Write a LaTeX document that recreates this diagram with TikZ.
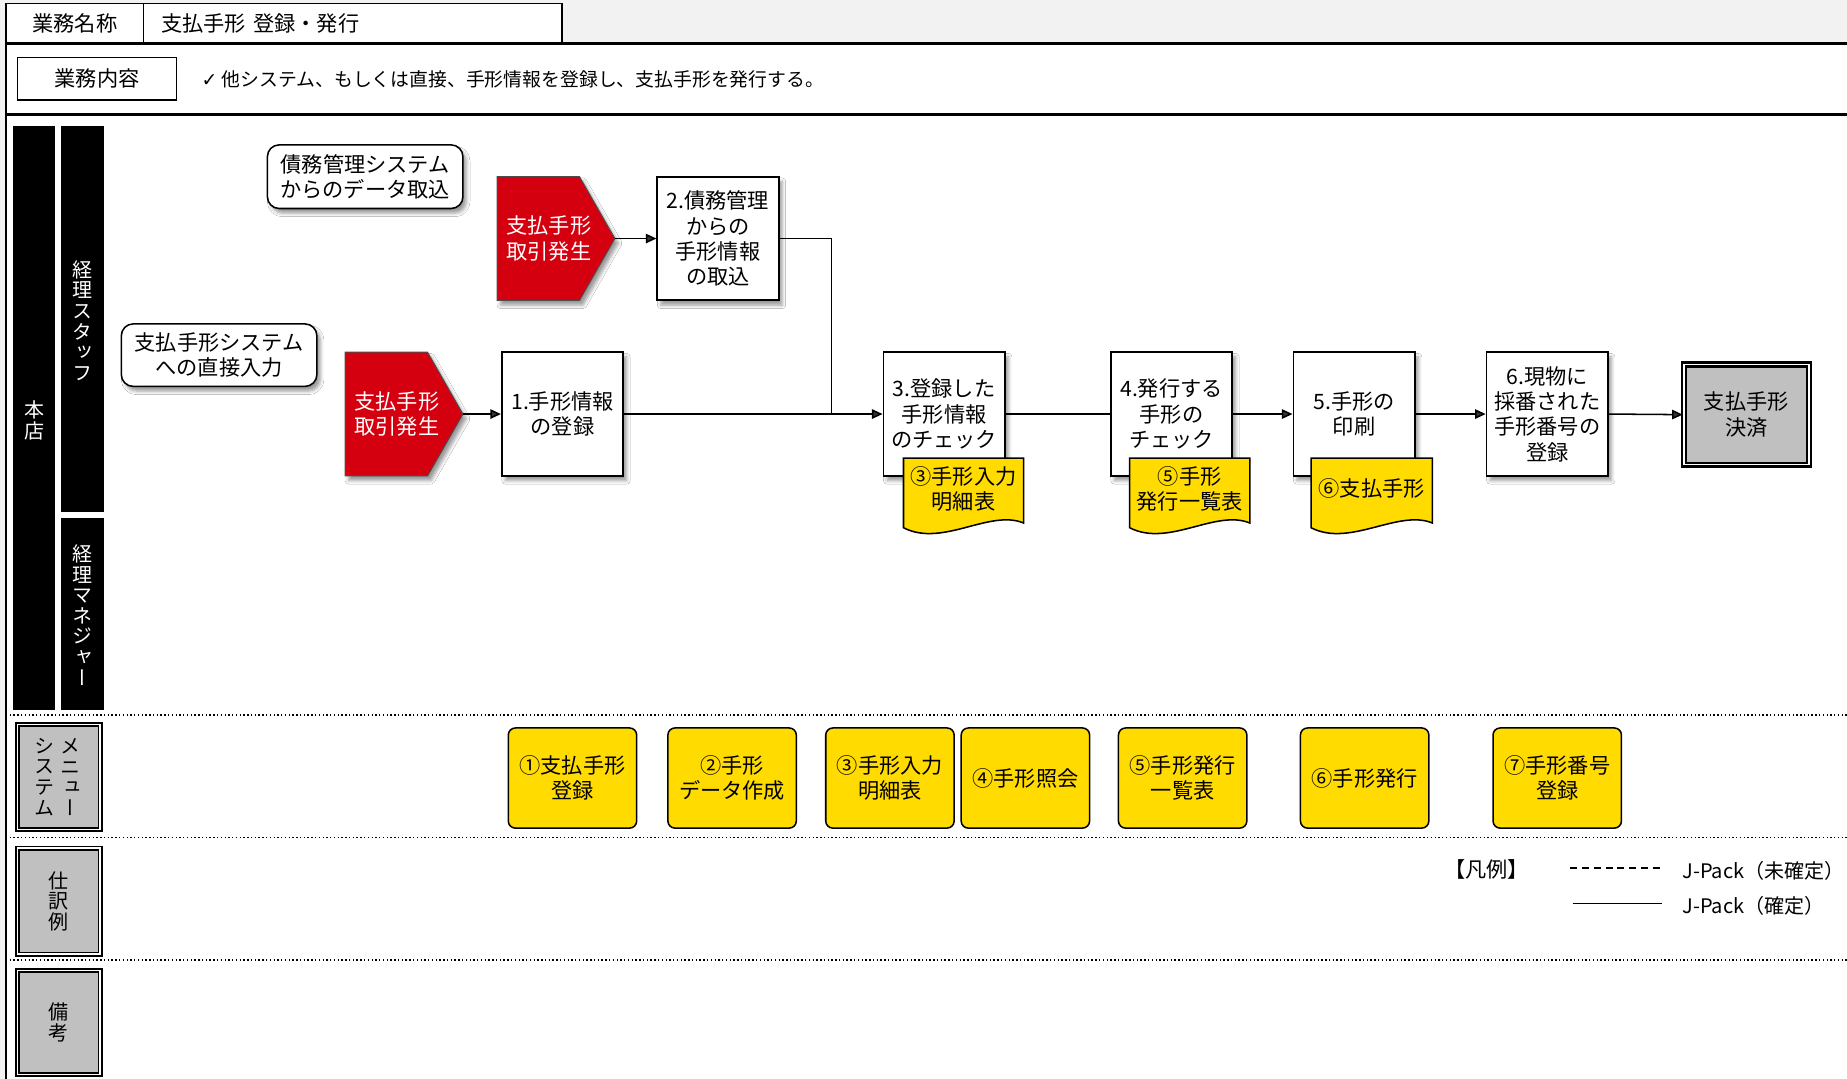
\documentclass[tikz,border=0pt]{standalone}
\usepackage{fontspec}
\setmainfont{Noto Sans CJK JP}
\newfontfamily\vfont[RawFeature=+vert]{Noto Sans CJK JP}
\newfontfamily\dvfont{DejaVu Sans}
\usetikzlibrary{arrows.meta,shadows.blur}
\definecolor{hred}{HTML}{D40010}
\definecolor{hyel}{HTML}{FFDB00}
\definecolor{hgray}{HTML}{C0C0C0}
\definecolor{bggray}{HTML}{F2F2F2}
\begin{document}
\begin{tikzpicture}[x=1pt,y=-1pt,
 txt/.style={font=\fontsize{17}{21.5}\selectfont},
 btxt/.style={font=\fontsize{18}{21.5}\selectfont},
 myshadow/.style={blur shadow={shadow xshift=3pt,shadow yshift=-4pt,shadow blur radius=3pt,shadow opacity=40}},
 proc/.style={btxt, draw, line width=1.5pt, fill=white, minimum width=103pt, minimum height=105pt, align=center, inner sep=1pt, myshadow},
 notebox/.style={btxt, draw, line width=1.3pt, rounded corners=10pt, fill=white, align=center, inner sep=1pt, myshadow},
 menu/.style={btxt, draw, line width=1.3pt, rounded corners=6pt, fill=hyel, minimum width=109pt, minimum height=85pt, align=center, inner sep=1pt},
 gbox/.style={draw=black, line width=1.5pt, double=white, double distance=1.3pt, fill=hgray, inner sep=0pt},
 vt/.style={font=\vfont\fontsize{17}{17.5}\selectfont, align=center, inner sep=0pt},
 conn/.style={line width=1.3pt},
 arr/.style={conn, -{Triangle[length=9pt,width=8pt]}},
 ptxt/.style={btxt, text=white, align=center, inner sep=0pt},
 doctxt/.style={btxt, align=center, inner sep=0pt},
]
\useasboundingbox (0,0) rectangle (1568,916);
% background and frame
\fill[bggray] (0,0) rectangle (1568,916);
\fill[white] (5,37) rectangle (1568,916);
\draw[line width=1.5pt] (5,3) -- (5,916);
\node[btxt, draw, line width=1.3pt, fill=white, minimum width=117pt, minimum height=34pt, inner sep=0pt] (h1) at (63.5,20) {業務名称};
\node[btxt, draw, line width=1.3pt, fill=white, minimum width=355pt, minimum height=34pt, text width=325pt, inner xsep=15pt, inner ysep=0pt, align=left] (h2) at (299.5,20) {支払手形 登録・発行};
\draw[line width=2.5pt] (5,37) -- (1568,37);
\draw[line width=2.5pt] (5,97) -- (1568,97);
\node[btxt, draw, line width=1.3pt, minimum width=135pt, minimum height=36pt, inner sep=0pt] (h3) at (82.5,67) {業務内容};
\node[font=\fontsize{16}{20}\selectfont, anchor=west, inner sep=0pt] (h4) at (171,67) {{\dvfont ✓} 他システム、もしくは直接、手形情報を登録し、支払手形を発行する。};
% lanes
\fill[black] (11,107) rectangle (47,603);
\fill[black] (52,107) rectangle (88,435);
\fill[black] (52,440) rectangle (88,603);
\node[vt, text=white] (l1) at (29,357) {本\\店};
\node[vt, text=white] (l2) at (70,272) {経\\理\\ス\\タ\\ッ\\フ};
\node[vt, text=white] (l3) at (70,522) {経\\理\\マ\\ネ\\ジ\\ャ\\ー};
\draw[dotted, line width=1.2pt] (5,607) -- (1568,607);
\draw[dotted, line width=1.2pt] (5,711) -- (1568,711);
\draw[dotted, line width=1.2pt] (5,815) -- (1568,815);
\node[gbox, minimum width=70pt, minimum height=89pt] (g1) at (50,659.5) {};
\node[vt] (g1a) at (60,659.5) {メ\\ニ\\ュ\\ー};
\node[vt] (g1b) at (38,659.5) {シ\\ス\\テ\\ム};
\node[gbox, vt, minimum width=70pt, minimum height=90pt] (g2) at (50,765) {仕\\訳\\例};
\node[gbox, vt, minimum width=70pt, minimum height=88pt] (g3) at (50,868) {備\\考};
% notes
\node[notebox, minimum width=166pt, minimum height=54pt] (n1) at (310,150) {債務管理システム\\からのデータ取込};
\node[notebox, minimum width=166pt, minimum height=53pt] (n2) at (186,301.5) {支払手形システム\\への直接入力};
% pentagons
\fill[hred, draw=black!70, line width=0.8pt, myshadow] (422,150) -- (492,150) -- (522,202.5) -- (492,255) -- (422,255) -- cycle;
\node[ptxt] (p1) at (466,202.5) {支払手形\\取引発生};
\coordinate (p1tip) at (522,202.5);
\fill[hred, draw=black!70, line width=0.8pt, myshadow] (293,299) -- (363,299) -- (393,351.5) -- (363,404) -- (293,404) -- cycle;
\node[ptxt] (p2) at (337,351.5) {支払手形\\取引発生};
\coordinate (p2tip) at (393,351.5);
% processes
\node[proc] (b2) at (609.5,202.5) {2.債務管理\\からの\\手形情報\\の取込};
\node[proc] (b1) at (477.5,351.5) {1.手形情報\\の登録};
\node[proc] (b3) at (801.5,351.5) {3.登録した\\手形情報\\のチェック};
\node[proc] (b4) at (994.5,351.5) {4.発行する\\手形の\\チェック};
\node[proc] (b5) at (1149.5,351.5) {5.手形の\\印刷};
\node[proc] (b6) at (1313.5,351.5) {6.現物に\\採番された\\手形番号の\\登録};
\node[btxt, draw=black, line width=2pt, double=white, double distance=1.3pt, fill=hgray, minimum width=106pt, minimum height=85pt, align=center, inner sep=0pt] (t) at (1482.5,352) {支払手形\\決済};
% documents
\filldraw[fill=hyel, draw=black, line width=1.3pt] (767,389) -- (869,389) -- (869,444) .. controls (840,432) and (800,465) .. (767,448) -- cycle;
\node[doctxt] (d3) at (818,415) {③手形入力\\明細表};
\filldraw[fill=hyel, draw=black, line width=1.3pt] (959,389) -- (1061,389) -- (1061,444) .. controls (1032,432) and (992,465) .. (959,448) -- cycle;
\node[doctxt] (d4) at (1010,415) {⑤手形\\発行一覧表};
\filldraw[fill=hyel, draw=black, line width=1.3pt] (1113,389) -- (1216,389) -- (1216,444) .. controls (1187,432) and (1146,465) .. (1113,448) -- cycle;
\node[doctxt] (d5) at (1164.5,415) {⑥支払手形};
% connectors
\draw[arr] (p1tip) -- (b2.west);
\draw[arr] (p2tip) -- (b1.west);
\draw[arr] (b1.east) -- (b3.west);
\coordinate (jn) at (706,351.5);
\draw[conn] (b2.east) -| (jn);
\draw[conn] (b3.east) -- (b4.west);
\draw[arr] (b4.east) -- (b5.west);
\draw[arr] (b5.east) -- (b6.west);
\draw[arr] (b6.east) -- (t.west);
% menu
\node[menu] (m1) at (486,660.5) {①支払手形\\登録};
\node[menu] (m2) at (621.5,660.5) {②手形\\データ作成};
\node[menu] (m3) at (755.5,660.5) {③手形入力\\明細表};
\node[menu] (m4) at (870.5,660.5) {④手形照会};
\node[menu] (m5) at (1004,660.5) {⑤手形発行\\一覧表};
\node[menu] (m6) at (1158.5,660.5) {⑥手形発行};
\node[menu] (m7) at (1322,660.5) {⑦手形番号\\登録};
% legend
\node[btxt, inner sep=0pt] (lg) at (1262,738) {【凡例】};
\coordinate (la1) at (1333,737);
\coordinate (la2) at (1410,737);
\draw[line width=1.2pt, dash pattern=on 6pt off 4pt] (la1) -- (la2);
\node[txt, anchor=west, inner sep=0pt] (lt1) at (1428,739) {J-Pack（未確定）};
\coordinate (lb1) at (1335,767);
\coordinate (lb2) at (1411,767);
\draw[line width=1.2pt] (lb1) -- (lb2);
\node[txt, anchor=west, inner sep=0pt] (lt2) at (1428,769) {J-Pack（確定）};
\end{tikzpicture}
\end{document}
